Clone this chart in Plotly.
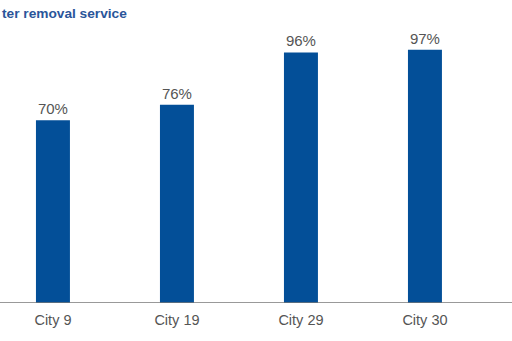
import plotly.graph_objects as go

categories = ["City 9", "City 19", "City 29", "City 30"]
values = [70, 76, 96, 97]
labels = ["70%", "76%", "96%", "97%"]
title_text = "ter removal service"

FONT = "Liberation Sans, Arial, sans-serif"

fig = go.Figure(
    go.Bar(
        x=categories,
        y=values,
        text=labels,
        textposition="outside",
        textfont=dict(family=FONT, size=15, color="#555555"),
        marker=dict(color="#034f98", line=dict(width=0)),
        width=0.274,
        cliponaxis=False,
    )
)

fig.update_layout(
    width=512,
    height=341,
    margin=dict(l=0, r=0, t=42, b=38),
    paper_bgcolor="white",
    plot_bgcolor="white",
    showlegend=False,
    uniformtext=dict(mode=False),
    xaxis=dict(
        range=[-0.427, 3.702],
        showgrid=False,
        zeroline=False,
        showline=False,
        ticks="",
        ticklabelstandoff=6,
        tickfont=dict(family=FONT, size=14.5, color="#555555"),
    ),
    yaxis=dict(
        range=[0, 100],
        visible=False,
        showgrid=False,
        zeroline=False,
    ),
    shapes=[
        dict(type="line", xref="paper", yref="y", x0=0, x1=1, y0=0, y1=0,
             line=dict(color="#777777", width=1.5))
    ],
    annotations=[
        dict(text=title_text, xref="paper", yref="paper", x=0, y=1, xanchor="left",
             yanchor="middle", yshift=29, showarrow=False,
             font=dict(family=FONT, size=13.7, color="#2a559a", weight="bold"))
    ],
)

fig.write_html("out.html")
